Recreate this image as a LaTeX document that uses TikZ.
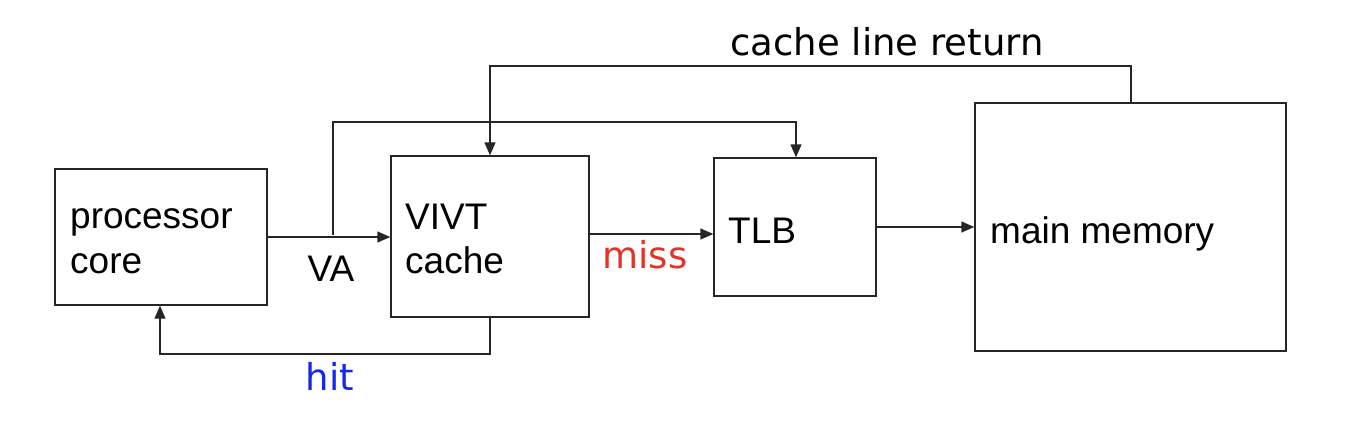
\documentclass[tikz,border=0pt]{standalone}
\usepackage{fontspec}
\setmainfont{Liberation Sans}
\newfontfamily\verd{DejaVu Sans}
\usetikzlibrary{arrows.meta}
\definecolor{missred}{RGB}{230,50,40}
\definecolor{hitblue}{RGB}{20,40,240}
\tikzset{
  box/.style={draw=black!85, line width=1.4pt, inner sep=0pt},
  conn/.style={draw=black!85, line width=1.4pt, -{Triangle[length=13pt,width=11pt]}},
  txt/.style={inner sep=0pt, anchor=base west, font=\fontsize{37}{44}\selectfont, align=left},
  lbl/.style={inner sep=0pt, anchor=base, font=\verd\fontsize{37}{40}\selectfont}
}
\begin{document}
\begin{tikzpicture}[x=1pt,y=-1pt]
\useasboundingbox (0,0) rectangle (1358,434);
% boxes
\node[box, minimum width=212pt, minimum height=136pt] (pc) at (161,237) {};
\node[box, minimum width=198pt, minimum height=161pt] (vivt) at (490,236.5) {};
\node[box, minimum width=162pt, minimum height=138pt] (tlb) at (795,227) {};
\node[box, minimum width=311pt, minimum height=248pt] (mm) at (1130.5,227) {};
% box texts
\node[txt] (t1) at (70,228) {processor};
\node[txt] (t2) at (70,273) {core};
\node[txt] (t3) at (405,229) {VIVT};
\node[txt] (t4) at (405,273) {cache};
\node[txt] (t5) at (728,243) {TLB};
\node[txt] (t6) at (990,243) {main memory};
% connectors
\draw[conn] (pc.east |- 0,237) -- (vivt.west |- 0,237);
\draw[conn] (333,235) -- (333,122) -- (796,122) -- (tlb.north -| 796,0);
\draw[conn] (vivt.east |- 0,234) -- (tlb.west |- 0,234);
\draw[conn] (tlb.east) -- (mm.west |- tlb.east);
\draw[conn] (mm.north -| 1131,0) -- (1131,66) -- (490,66) -- (vivt.north);
\draw[conn] (vivt.south) -- (490,354) -- (160,354) -- (pc.south -| 160,0);
% labels
\node[txt, anchor=base] (lva) at (331,281) {VA};
\node[lbl, text=missred] (lmiss) at (645,268) {miss};
\node[lbl, text=hitblue] (lhit) at (330,390) {hit};
\node[lbl] (lret) at (887,55) {cache line return};
\end{tikzpicture}
\end{document}
